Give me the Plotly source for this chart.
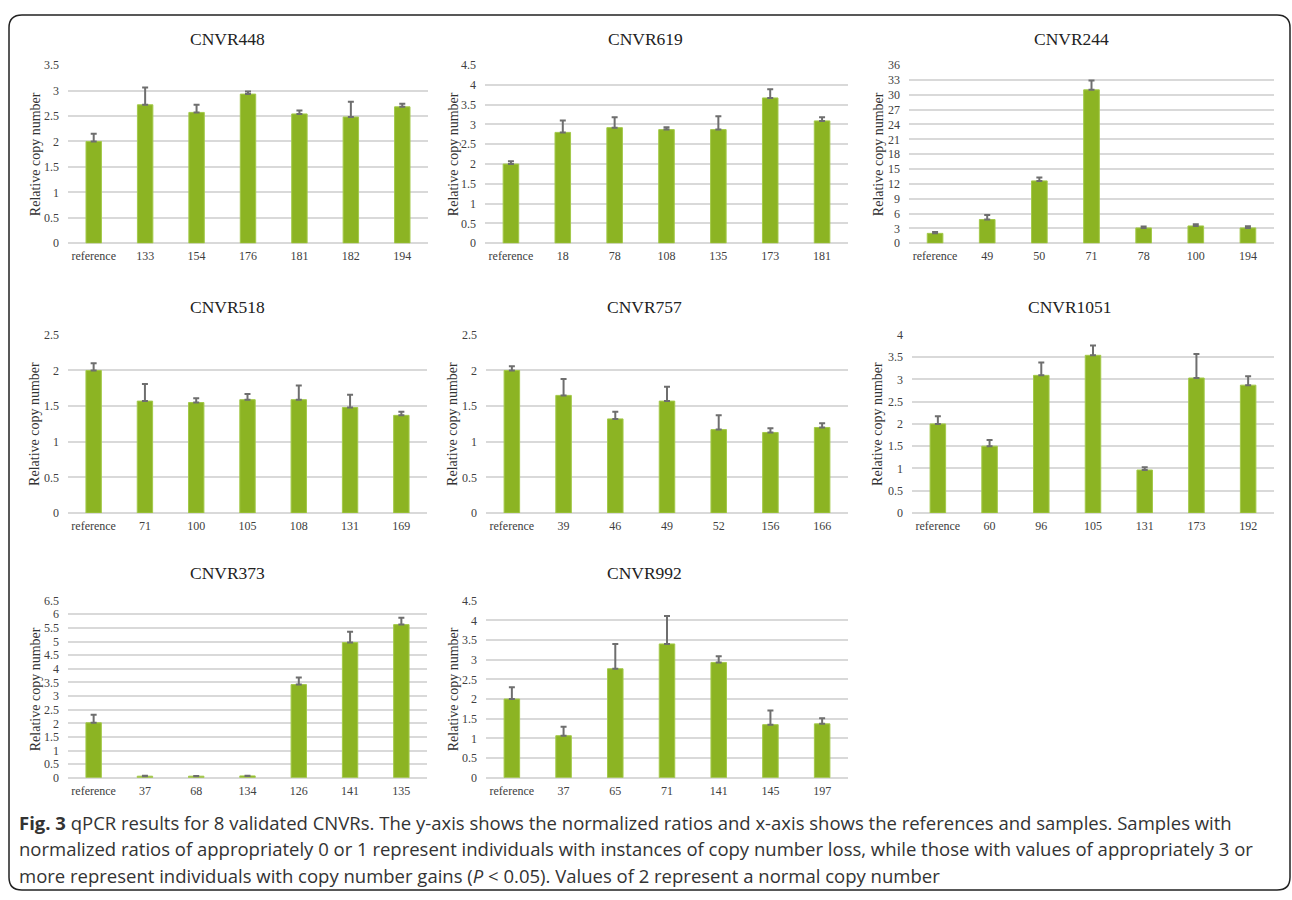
import plotly.graph_objects as go

W, H = 1292, 900

# ---- data: relative copy number (mean) and upper error per sample ----
titles = ["CNVR448", "CNVR619", "CNVR244", "CNVR518", "CNVR757",
          "CNVR1051", "CNVR373", "CNVR992"]

cats_448 = ["reference", "133", "154", "176", "181", "182", "194"]
vals_448 = [2.00, 2.72, 2.57, 2.93, 2.54, 2.48, 2.68]
err_448 = [0.15, 0.34, 0.15, 0.05, 0.07, 0.30, 0.06]

cats_619 = ["reference", "18", "78", "108", "135", "173", "181"]
vals_619 = [2.00, 2.80, 2.92, 2.87, 2.87, 3.67, 3.09]
err_619 = [0.07, 0.30, 0.26, 0.06, 0.34, 0.22, 0.09]

cats_244 = ["reference", "49", "50", "71", "78", "100", "194"]
vals_244 = [2.0, 4.8, 12.6, 31.0, 3.1, 3.5, 3.1]
err_244 = [0.3, 0.9, 0.7, 1.9, 0.3, 0.35, 0.35]

cats_518 = ["reference", "71", "100", "105", "108", "131", "169"]
vals_518 = [2.00, 1.57, 1.55, 1.59, 1.59, 1.48, 1.37]
err_518 = [0.10, 0.24, 0.06, 0.08, 0.20, 0.18, 0.05]

cats_757 = ["reference", "39", "46", "49", "52", "156", "166"]
vals_757 = [2.00, 1.65, 1.32, 1.57, 1.17, 1.13, 1.20]
err_757 = [0.06, 0.23, 0.10, 0.20, 0.20, 0.06, 0.06]

cats_1051 = ["reference", "60", "96", "105", "131", "173", "192"]
vals_1051 = [2.00, 1.50, 3.09, 3.54, 0.965, 3.03, 2.87]
err_1051 = [0.17, 0.14, 0.29, 0.22, 0.06, 0.54, 0.20]

cats_373 = ["reference", "37", "68", "134", "126", "141", "135"]
vals_373 = [2.02, 0.06, 0.06, 0.07, 3.42, 4.96, 5.62]
err_373 = [0.29, 0.02, 0.01, 0.01, 0.26, 0.40, 0.25]

cats_992 = ["reference", "37", "65", "71", "141", "145", "197"]
vals_992 = [2.00, 1.07, 2.77, 3.40, 2.93, 1.35, 1.37]
err_992 = [0.30, 0.23, 0.63, 0.71, 0.16, 0.36, 0.14]

y_max = [3.5, 4.5, 36, 2.5, 2.5, 4, 6.5, 4.5]
y_step = [0.5, 0.5, 3, 0.5, 0.5, 0.5, 0.5, 0.5]

caption_lines = [
    "<b>Fig. 3</b> qPCR results for 8 validated CNVRs. The y-axis shows the normalized ratios and x-axis shows the references and samples. Samples with",
    "normalized ratios of appropriately 0 or 1 represent individuals with instances of copy number loss, while those with values of appropriately 3 or",
    "more represent individuals with copy number gains (<i>P</i> < 0.05). Values of 2 represent a normal copy number",
]

series = [
    (cats_448, vals_448, err_448), (cats_619, vals_619, err_619),
    (cats_244, vals_244, err_244), (cats_518, vals_518, err_518),
    (cats_757, vals_757, err_757), (cats_1051, vals_1051, err_1051),
    (cats_373, vals_373, err_373), (cats_992, vals_992, err_992),
]

# ---- layout of the panels in pixels: (left, right, top, bottom) ----
boxes = [
    (68, 428, 59, 240), (485, 848, 59, 240), (909, 1274, 59, 240),
    (68, 427, 333, 514), (486, 848, 333, 514), (912, 1274, 333, 514),
    (68, 427, 603, 783), (486, 848, 603, 783),
]
title_pos = [(227, 32), (645, 32), (1071, 32),
             (227, 305), (644, 305), (1070, 305),
             (227, 575), (644, 575)]
ytitle_x = [35, 453, 878, 35, 453, 878, 35, 453]

BAR = "#8cb423"
BAR_EDGE = "#a3c94a"
GRID = "#d9d9d9"
SERIF = "Liberation Serif, Times New Roman, serif"


def px(x):
    return x / W


def py(y):
    return 1 - y / H


fig = go.Figure()
annotations = []

for i, ((cats, vals, errs), (l, r, t, b)) in enumerate(zip(series, boxes)):
    n = "" if i == 0 else str(i + 1)
    fig.add_trace(go.Bar(
        x=cats, y=vals, width=0.3,
        marker=dict(color=BAR, line=dict(color=BAR_EDGE, width=1)),
        error_y=dict(type="data", array=errs, symmetric=False,
                     arrayminus=[0] * len(errs), color="#6e6e6e",
                     thickness=2, width=3),
        xaxis="x" + n, yaxis="y" + n, showlegend=False,
    ))
    fig.layout["xaxis" + n] = dict(
        domain=[px(l), px(r)], anchor="y" + n, type="category",
        range=[-0.5, len(cats) - 0.5], showgrid=False, zeroline=False,
        showline=False, ticks="", ticklabelstandoff=4, fixedrange=True,
        tickfont=dict(family=SERIF, size=12, color="#404040"),
    )
    fig.layout["yaxis" + n] = dict(
        domain=[py(b), py(t)], anchor="x" + n,
        range=[0, y_max[i]], dtick=y_step[i], tick0=0,
        showgrid=True, gridcolor=GRID, gridwidth=1.8,
        zeroline=True, zerolinecolor=GRID, zerolinewidth=1.8,
        showline=False, ticks="", ticklabelstandoff=8, fixedrange=True,
        tickfont=dict(family=SERIF, size=12, color="#404040"),
    )
    tx, ty = title_pos[i]
    annotations.append(dict(
        text=titles[i], x=px(tx), y=py(ty), xref="paper", yref="paper",
        xanchor="center", yanchor="middle", showarrow=False,
        font=dict(family=SERIF, size=17.5, color="#222222"),
    ))
    annotations.append(dict(
        text="Relative copy number", x=px(ytitle_x[i]), y=py((t + b) / 2),
        xref="paper", yref="paper", xanchor="center", yanchor="middle",
        textangle=-90, showarrow=False,
        font=dict(family=SERIF, size=14, color="#333333"),
    ))

for k, (line, yline) in enumerate(zip(caption_lines, [828, 855, 882])):
    annotations.append(dict(
        text=line, x=px(17), y=py(yline), xref="paper", yref="paper",
        xanchor="left", yanchor="middle", showarrow=False, align="left",
        font=dict(family="Open Sans, Noto Sans, sans-serif", size=18.5,
                  color="#333333"),
    ))

# rounded frame around the whole figure
x0, x1, y0, y1, rad = 9, 1290, 8, 897, 13
pts = [
    f"M {px(x0 + rad)},{py(y0)}",
    f"L {px(x1 - rad)},{py(y0)}",
    f"Q {px(x1)},{py(y0)} {px(x1)},{py(y0 + rad)}",
    f"L {px(x1)},{py(y1 - rad)}",
    f"Q {px(x1)},{py(y1)} {px(x1 - rad)},{py(y1)}",
    f"L {px(x0 + rad)},{py(y1)}",
    f"Q {px(x0)},{py(y1)} {px(x0)},{py(y1 - rad)}",
    f"L {px(x0)},{py(y0 + rad)}",
    f"Q {px(x0)},{py(y0)} {px(x0 + rad)},{py(y0)}",
    "Z",
]
fig.add_shape(type="path", path=" ".join(pts), xref="paper", yref="paper",
              line=dict(color="#222222", width=1.5))

fig.update_layout(
    width=W, height=H, margin=dict(l=0, r=0, t=0, b=0),
    paper_bgcolor="white", plot_bgcolor="white",
    annotations=annotations, bargap=0.7,
)

fig.write_html("out.html", config={"displayModeBar": False})
